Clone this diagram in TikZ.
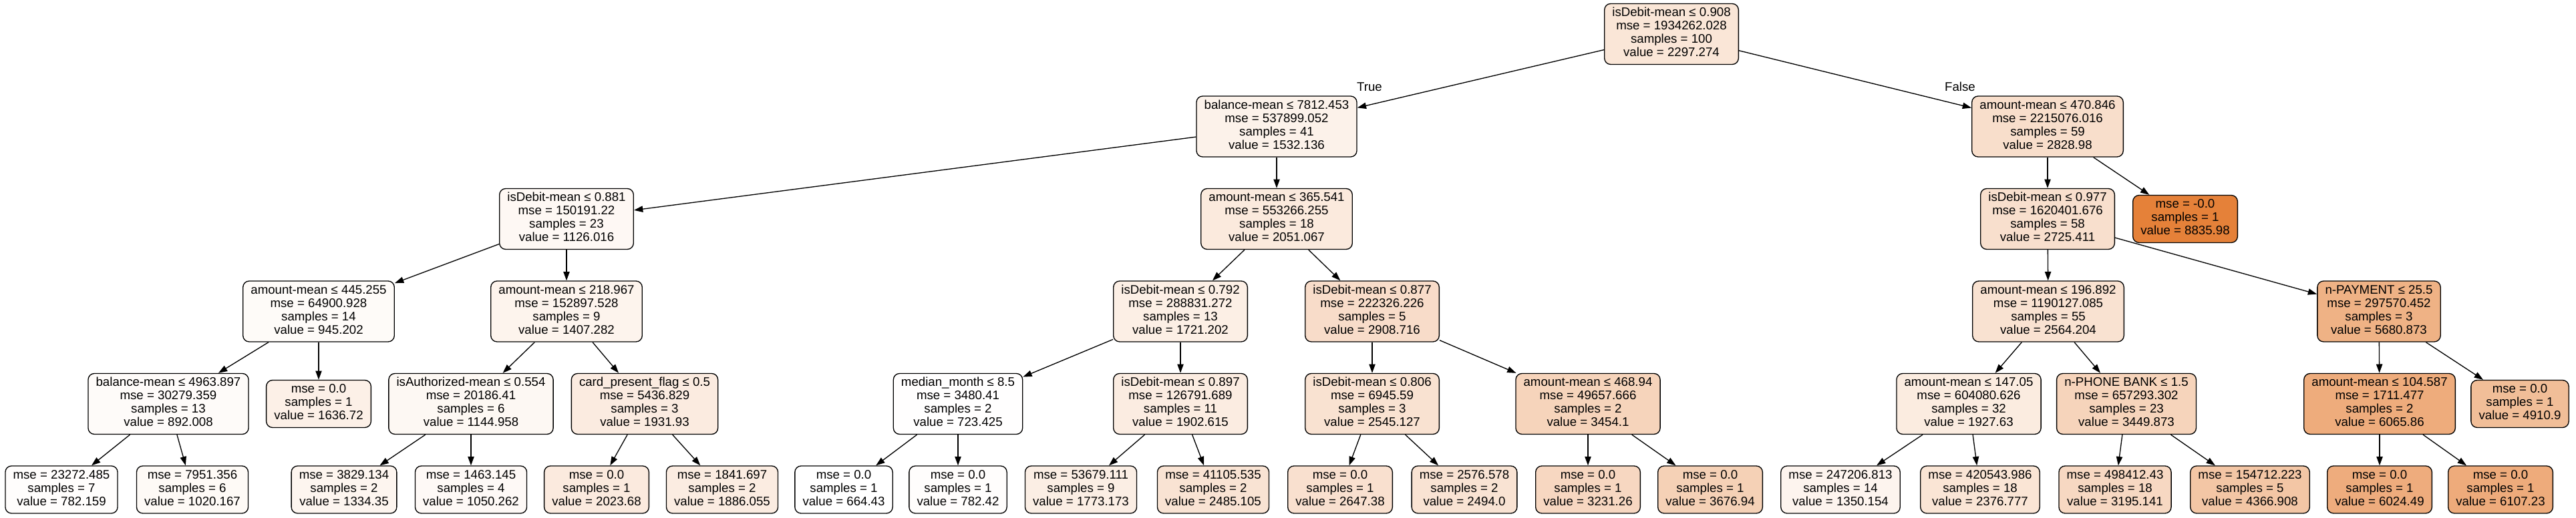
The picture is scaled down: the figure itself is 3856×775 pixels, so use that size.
\documentclass[tikz,border=0pt]{standalone}
\usepackage{fontspec}
\setmainfont{Liberation Sans}
\usetikzlibrary{arrows.meta}
\definecolor{tc}{RGB}{229,129,57}
\tikzset{
  tn/.style={draw=black, line width=1pt, rounded corners=7pt, align=center,
    font=\fontsize{14pt}{15pt}\selectfont, inner xsep=8.75pt, inner ysep=0pt,
    minimum height=68.25pt, execute at begin node=\strut, execute at end node=\strut,
    fill=tc!#1},
  lf/.style={tn=#1, minimum height=53.25pt},
  ed/.style={draw=black, line width=1pt, -{Triangle[length=10pt,width=7pt]}},
  el/.style={font=\fontsize{14pt}{15pt}\selectfont, inner sep=0pt}
}
\begin{document}
\begin{tikzpicture}[x=0.75pt,y=-0.75pt]
\path[use as bounding box, fill=white] (0,0) rectangle (3856,775);
% level 0
\node[tn=19.98] (r) at (2502,51) {isDebit-mean ≤ 0.908\\mse = 1934262.028\\samples = 100\\value = 2297.274};
% level 1
\node[tn=10.62] (a) at (1911,189.5) {balance-mean ≤ 7812.453\\mse = 537899.052\\samples = 41\\value = 1532.136};
\node[tn=26.49] (b) at (3065,189.5) {amount-mean ≤ 470.846\\mse = 2215076.016\\samples = 59\\value = 2828.98};
% level 2
\node[tn=5.65] (a1) at (848,328) {isDebit-mean ≤ 0.881\\mse = 150191.22\\samples = 23\\value = 1126.016};
\node[tn=16.97] (a2) at (1911,328) {amount-mean ≤ 365.541\\mse = 553266.255\\samples = 18\\value = 2051.067};
\node[tn=25.22] (b1) at (3065,328) {isDebit-mean ≤ 0.977\\mse = 1620401.676\\samples = 58\\value = 2725.411};
\node[lf=100] (b2) at (3271,328) {mse = -0.0\\samples = 1\\value = 8835.98};
% level 3
\node[tn=3.44] (a1a) at (477,466.5) {amount-mean ≤ 445.255\\mse = 64900.928\\samples = 14\\value = 945.202};
\node[tn=9.09] (a1b) at (848,466.5) {amount-mean ≤ 218.967\\mse = 152897.528\\samples = 9\\value = 1407.282};
\node[tn=12.93] (a2a) at (1767,466.5) {isDebit-mean ≤ 0.792\\mse = 288831.272\\samples = 13\\value = 1721.202};
\node[tn=27.46] (a2b) at (2054,466.5) {isDebit-mean ≤ 0.877\\mse = 222326.226\\samples = 5\\value = 2908.716};
\node[tn=23.25] (b1a) at (3066,466.5) {amount-mean ≤ 196.892\\mse = 1190127.085\\samples = 55\\value = 2564.204};
\node[tn=61.39] (b1b) at (3561,466.5) {n-PAYMENT ≤ 25.5\\mse = 297570.452\\samples = 3\\value = 5680.873};
% level 4
\node[tn=2.79] (a1a1) at (252,605) {balance-mean ≤ 4963.897\\mse = 30279.359\\samples = 13\\value = 892.008};
\node[lf=11.90] (a1a2) at (477,605) {mse = 0.0\\samples = 1\\value = 1636.72};
\node[tn=5.88] (a1b1) at (705,605) {isAuthorized-mean ≤ 0.554\\mse = 20186.41\\samples = 6\\value = 1144.958};
\node[tn=15.51] (a1b2) at (965,605) {card\_present\_flag ≤ 0.5\\mse = 5436.829\\samples = 3\\value = 1931.93};
\node[tn=0.72] (a2a1) at (1434,605) {median\_month ≤ 8.5\\mse = 3480.41\\samples = 2\\value = 723.425};
\node[tn=15.15] (a2a2) at (1767,605) {isDebit-mean ≤ 0.897\\mse = 126791.689\\samples = 11\\value = 1902.615};
\node[tn=23.02] (a2b1) at (2054,605) {isDebit-mean ≤ 0.806\\mse = 6945.59\\samples = 3\\value = 2545.127};
\node[tn=34.14] (a2b2) at (2377,605) {amount-mean ≤ 468.94\\mse = 49657.666\\samples = 2\\value = 3454.1};
\node[tn=15.46] (b1a1) at (2947,605) {amount-mean ≤ 147.05\\mse = 604080.626\\samples = 32\\value = 1927.63};
\node[tn=34.09] (b1a2) at (3183,605) {n-PHONE BANK ≤ 1.5\\mse = 657293.302\\samples = 23\\value = 3449.873};
\node[tn=66.10] (b1b1) at (3562,605) {amount-mean ≤ 104.587\\mse = 1711.477\\samples = 2\\value = 6065.86};
\node[lf=51.97] (b1b2) at (3772,605) {mse = 0.0\\samples = 1\\value = 4910.9};
% level 5
\node[lf=1.44] (l1) at (92,733.5) {mse = 23272.485\\samples = 7\\value = 782.159};
\node[lf=4.35] (l2) at (288,733.5) {mse = 7951.356\\samples = 6\\value = 1020.167};
\node[lf=8.20] (l3) at (515,733.5) {mse = 3829.134\\samples = 2\\value = 1334.35};
\node[lf=4.72] (l4) at (705,733.5) {mse = 1463.145\\samples = 4\\value = 1050.262};
\node[lf=16.63] (l5) at (893,733.5) {mse = 0.0\\samples = 1\\value = 2023.68};
\node[lf=14.95] (l6) at (1081,733.5) {mse = 1841.697\\samples = 2\\value = 1886.055};
\node[lf=0] (l7) at (1263,733.5) {mse = 0.0\\samples = 1\\value = 664.43};
\node[lf=1.44] (l8) at (1434,733.5) {mse = 0.0\\samples = 1\\value = 782.42};
\node[lf=13.57] (l9) at (1618,733.5) {mse = 53679.111\\samples = 9\\value = 1773.173};
\node[lf=22.28] (l10) at (1816,733.5) {mse = 41105.535\\samples = 2\\value = 2485.105};
\node[lf=24.27] (l11) at (2006,733.5) {mse = 0.0\\samples = 1\\value = 2647.38};
\node[lf=22.39] (l12) at (2192,733.5) {mse = 2576.578\\samples = 2\\value = 2494.0};
\node[lf=31.41] (l13) at (2377,733.5) {mse = 0.0\\samples = 1\\value = 3231.26};
\node[lf=36.87] (l14) at (2560,733.5) {mse = 0.0\\samples = 1\\value = 3676.94};
\node[lf=8.39] (l15) at (2755,733.5) {mse = 247206.813\\samples = 14\\value = 1350.154};
\node[lf=20.96] (l16) at (2964,733.5) {mse = 420543.986\\samples = 18\\value = 2376.777};
\node[lf=30.97] (l17) at (3166,733.5) {mse = 498412.43\\samples = 18\\value = 3195.141};
\node[lf=45.31] (l18) at (3368,733.5) {mse = 154712.223\\samples = 5\\value = 4366.908};
\node[lf=65.59] (l19) at (3562,733.5) {mse = 0.0\\samples = 1\\value = 6024.49};
\node[lf=66.61] (l20) at (3743,733.5) {mse = 0.0\\samples = 1\\value = 6107.23};
% edge labels
\node[el] (tl) at (2050,130) {True};
\node[el] (fl) at (2934,130) {False};
% edges
\draw[ed] (r) -- (a);
\draw[ed] (r) -- (b);
\draw[ed] (a) -- (a1);
\draw[ed] (a) -- (a2);
\draw[ed] (b) -- (b1);
\draw[ed] (b) -- (b2);
\draw[ed] (a1) -- (a1a);
\draw[ed] (a1) -- (a1b);
\draw[ed] (a2) -- (a2a);
\draw[ed] (a2) -- (a2b);
\draw[ed] (b1) -- (b1a);
\draw[ed] (b1) -- (b1b);
\draw[ed] (a1a) -- (a1a1);
\draw[ed] (a1a) -- (a1a2);
\draw[ed] (a1b) -- (a1b1);
\draw[ed] (a1b) -- (a1b2);
\draw[ed] (a2a) -- (a2a1);
\draw[ed] (a2a) -- (a2a2);
\draw[ed] (a2b) -- (a2b1);
\draw[ed] (a2b) -- (a2b2);
\draw[ed] (b1a) -- (b1a1);
\draw[ed] (b1a) -- (b1a2);
\draw[ed] (b1b) -- (b1b1);
\draw[ed] (b1b) -- (b1b2);
\draw[ed] (a1a1) -- (l1);
\draw[ed] (a1a1) -- (l2);
\draw[ed] (a1b1) -- (l3);
\draw[ed] (a1b1) -- (l4);
\draw[ed] (a1b2) -- (l5);
\draw[ed] (a1b2) -- (l6);
\draw[ed] (a2a1) -- (l7);
\draw[ed] (a2a1) -- (l8);
\draw[ed] (a2a2) -- (l9);
\draw[ed] (a2a2) -- (l10);
\draw[ed] (a2b1) -- (l11);
\draw[ed] (a2b1) -- (l12);
\draw[ed] (a2b2) -- (l13);
\draw[ed] (a2b2) -- (l14);
\draw[ed] (b1a1) -- (l15);
\draw[ed] (b1a1) -- (l16);
\draw[ed] (b1a2) -- (l17);
\draw[ed] (b1a2) -- (l18);
\draw[ed] (b1b1) -- (l19);
\draw[ed] (b1b1) -- (l20);
\end{tikzpicture}
\end{document}
